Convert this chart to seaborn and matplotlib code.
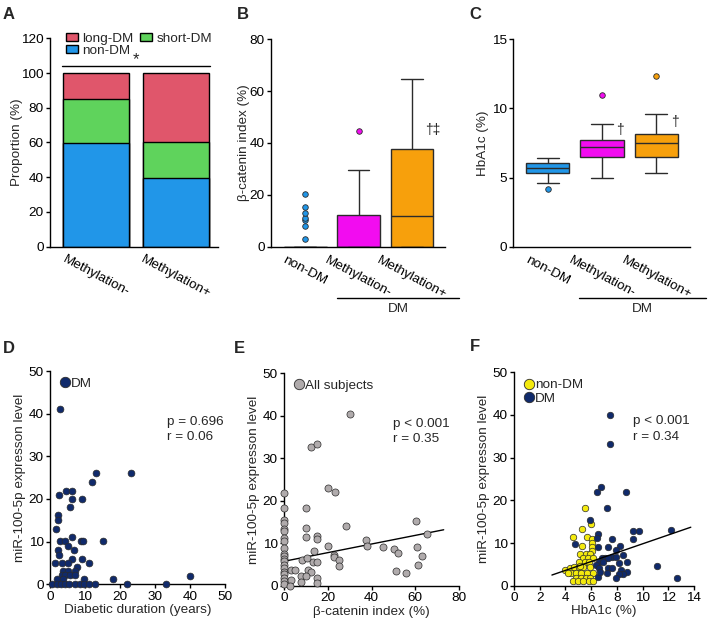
# miR-100-5p figure: panels A-F

import matplotlib.pyplot as plt
from matplotlib.patches import Patch
from matplotlib.lines import Line2D
import seaborn as sns

# A: proportion (%) of each group
meth_groups = ['Methylation-', 'Methylation+']
non_dm_pct = [59.5, 39.7]
short_dm_pct = [25.5, 20.8]
long_dm_pct = [15.0, 39.5]

# B: beta-catenin index (%)
box_groups = ['non-DM', 'Methylation-', 'Methylation+']
bcat_non_dm = [0] * 40 + [3, 8, 10.3, 11.3, 13.2, 15.2, 20.2]
bcat_meth_neg = [0] * 11 + [4, 7, 9, 11, 12.2, 15, 18, 22, 29.8, 44.8]
bcat_meth_pos = [0] * 6 + [2, 4, 6, 9, 11.8, 15, 20, 25, 30, 37.6,
                           42, 48, 52, 58, 64.7]

# C: HbA1c (%)
hba_non_dm = [4.18, 4.59, 5.37, 5.5, 5.70, 5.9, 6.08, 6.2, 6.42]
hba_meth_neg = [5.0, 6.0, 6.51, 6.9, 7.19, 7.5, 7.71, 8.85, 10.98]
hba_meth_pos = [5.34, 6.0, 6.51, 7.0, 7.48, 7.8, 8.17, 9.57, 12.31]

# D: diabetic duration (years) vs miR-100-5p
d_duration = [2.9, 13.1, 23.1, 12.1, 2.7, 4.5, 6.4, 6.3, 9.1, 5.8,
              2.4, 2.4, 1.7, 6.3, 2.8, 4.3, 8.9, 9.3, 15.0, 5.2,
              2.4, 6.8, 2.6, 6.3, 9.1, 1.4, 3.3, 5.0, 11.0, 7.6,
              3.8, 5.2, 7.1, 3.3, 4.3, 5.6, 7.1, 2.1, 3.8, 9.8,
              18.1, 0.5, 1.9, 3.1, 4.3, 5.5, 7.0, 8.6, 9.8, 11.0,
              12.9, 22.0, 33.0, 40.0]
d_mir = [41.0, 26.0, 26.0, 23.9, 20.9, 21.9, 21.9, 19.9, 19.9, 18.1,
         16.2, 15.1, 13.0, 11.0, 10.1, 10.1, 10.1, 10.1, 10.1, 9.0,
         8.1, 8.1, 6.9, 6.0, 6.0, 5.0, 5.0, 5.0, 4.9, 4.0,
         3.2, 3.2, 3.2, 2.2, 2.2, 2.2, 2.2, 1.2, 1.2, 1.2,
         1.2, 0, 0, 0, 0, 0, 0, 0, 0, 0,
         0, 0, 0, 2.0]

# E: beta-catenin index vs miR-100-5p (all subjects)
e_bcat = [0] * 20 + [30.1, 12.5, 15.1, 20.2, 23.2, 28.2, 10.2, 10.2, 10.2, 15.3,
                     15.3, 20.2, 13.5, 22.9, 22.9, 25.2, 25.2, 8.2, 10.5, 13.3,
                     15.3, 3.1, 5.2, 10.8, 12.5, 7.9, 10.2, 7.9, 15.3, 15.3,
                     3.4, 2.6, 37.7, 38.0, 45.3, 50.2, 52.2, 51.1, 55.7, 60.3,
                     61.4, 62.9, 61.0, 65.3]
e_mir = [21.9, 18.3, 15.4, 14.8, 13.3, 12.8, 11.3, 10.5, 8.9, 7.6,
         7.0, 6.4, 5.8, 5.0, 4.2, 3.4, 2.7, 1.9, 1.1, 0.5,
         40.4, 32.6, 33.4, 23.0, 22.1, 14.2, 18.3, 13.6, 11.4, 11.8,
         11.0, 9.3, 8.1, 7.2, 6.7, 6.2, 4.8, 6.2, 6.6, 5.6,
         5.6, 3.8, 3.8, 3.8, 3.4, 2.3, 2.3, 0.9, 1.9, 0.8,
         1.3, 0.0, 10.9, 9.5, 9.2, 8.7, 7.8, 3.5, 3.0, 15.2,
         5.0, 7.1, 9.2, 12.2]
e_fit_x = [0, 73]
e_fit_y = [5.8, 13.2]

# F: HbA1c vs miR-100-5p
f_hba_non_dm = [5.55, 5.96, 5.32, 4.59, 5.7, 5.32, 6.1, 6.1, 6.1, 6.1,
                5.17, 5.63, 5.94, 5.37, 5.76, 6.15, 5.06, 5.5, 5.8, 3.94,
                4.33, 4.67, 5.06, 5.37, 5.89, 4.46, 4.85, 5.24, 5.7, 6.15,
                4.2, 4.8, 5.2, 5.6, 5.9, 4.6, 5.0, 5.4, 5.8, 6.15, 5.1]
f_mir_non_dm = [18.1, 14.5, 13.3, 11.5, 11.5, 9.3, 10.9, 9.9, 9.0, 8.1,
                7.4, 7.4, 7.4, 6.5, 6.5, 6.5, 5.6, 5.6, 5.6, 3.7,
                4.2, 4.4, 4.4, 4.4, 4.4, 3.0, 3.0, 3.0, 3.0, 3.0,
                2.9, 1.9, 1.9, 1.9, 1.9, 1.0, 1.0, 1.0, 1.0, 1.0, 4.6]
f_hba_dm = [7.5, 7.45, 6.8, 6.49, 8.74, 7.26, 5.94, 9.25, 9.7, 9.25,
            6.53, 6.45, 4.77, 7.65, 7.31, 8.22, 7.96, 6.53, 8.48, 7.6,
            7.9, 6.84, 7.05, 7.31, 6.6, 6.96, 6.4, 8.14, 8.8, 6.6,
            7.3, 7.6, 8.3, 8.8, 8.5, 8.2, 7.2, 7.9, 6.55, 6.7,
            11.1, 12.2, 12.7]
f_mir_dm = [40.0, 33.2, 23.1, 21.9, 21.9, 18.2, 15.4, 12.8, 12.8, 10.9,
            12.1, 11.2, 9.8, 10.9, 9.1, 9.2, 8.4, 9.0, 7.2, 6.7,
            6.7, 6.6, 6.6, 6.6, 5.5, 5.5, 4.8, 5.3, 5.6, 4.1,
            4.1, 4.1, 3.7, 3.3, 2.7, 2.7, 2.9, 1.7, 2.1, 3.3,
            4.5, 13.1, 1.7]
f_fit_x = [2.95, 13.75]
f_fit_y = [2.5, 13.7]

# colours
blue, green, red = '#2196e8', '#5fd35c', '#e0566b'
box_colors = ['#2196e8', '#f20cf0', '#f7a00c']
navy, grey, yellow = '#102a6b', '#b0abac', '#f4ea0e'
edge = '#2b2b2b'

sns.set_style('ticks')
plt.rcParams['font.family'] = ['Liberation Sans', 'DejaVu Sans']
plt.rcParams['font.size'] = 9.7

fig = plt.figure(figsize=(7.09, 6.22), dpi=100)


def px_axes(l, t, r, b):
    return fig.add_axes([l / 709, 1 - b / 622, (r - l) / 709, (b - t) / 622])


def style(ax):
    sns.despine(ax=ax)
    for s in ['left', 'bottom']:
        ax.spines[s].set_linewidth(1.0)
        ax.spines[s].set_color('black')
    ax.tick_params(length=3, width=1, pad=1.5, labelsize=9.7, colors='black')


# ---- A: stacked bars
axA = px_axes(50, 38.3, 218, 246.7)
cum_short = [a + b for a, b in zip(non_dm_pct, short_dm_pct)]
cum_long = [a + b for a, b in zip(cum_short, long_dm_pct)]
for vals, col in [(cum_long, red), (cum_short, green), (non_dm_pct, blue)]:
    sns.barplot(x=meth_groups, y=vals, color=col, saturation=1, width=0.82,
                edgecolor='black', linewidth=1, errorbar=None, ax=axA)
axA.set_xlim(-0.575, 1.525)
axA.set_ylim(0, 120)
axA.set_yticks(range(0, 121, 20))
axA.set_ylabel('Proportion (%)', labelpad=-1)
style(axA)
axA.tick_params(axis='x', length=0, pad=5)
plt.setp(axA.get_xticklabels(), rotation=-28, ha='center')
axA.plot([-0.42, 1.43], [104, 104], color='black', lw=1, clip_on=False)
axA.text(0.5, 103.5, '*', ha='center', va='bottom', fontsize=12)
handles = [Patch(facecolor=red, edgecolor='black', label='long-DM'),
           Patch(facecolor=blue, edgecolor='black', label='non-DM'),
           Patch(facecolor=green, edgecolor='black', label='short-DM')]
axA.legend(handles=handles, ncol=2, loc='upper left', bbox_to_anchor=(0.055, 1.06),
           frameon=False, borderpad=0, handlelength=0.9, handleheight=0.6,
           handletextpad=0.3, columnspacing=0.5, labelspacing=0.0)


# ---- B, C: box plots
def draw_boxes(ax, series):
    for grp, vals, col in zip(box_groups, series, box_colors):
        sns.boxplot(x=[grp] * len(vals), y=vals, order=box_groups, color=col,
                    saturation=1, width=0.8, linecolor=edge, linewidth=1,
                    fliersize=4,
                    flierprops=dict(marker='o', markerfacecolor=col,
                                    markeredgecolor=edge, markeredgewidth=0.6),
                    ax=ax)
    ax.set_xlim(-0.64, 2.62)
    style(ax)
    ax.tick_params(axis='x', length=0, pad=5)
    plt.setp(ax.get_xticklabels(), rotation=-28, ha='center')


axB = px_axes(271, 39, 445, 247)
draw_boxes(axB, [bcat_non_dm, bcat_meth_neg, bcat_meth_pos])
axB.set_ylim(0, 80)
axB.set_yticks([0, 20, 40, 60, 80])
axB.set_ylabel('β-catenin index (%)', labelpad=0)
axB.text(2.39, 45, '†‡', ha='center', va='center', fontsize=10)

axC = px_axes(513, 39, 690, 247)
draw_boxes(axC, [hba_non_dm, hba_meth_neg, hba_meth_pos])
axC.set_ylim(0, 15)
axC.set_yticks([0, 5, 10, 15])
axC.set_ylabel('HbA1c (%)', labelpad=2)
axC.text(1.32, 8.44, '†', ha='center', va='center', fontsize=10)
axC.text(2.34, 9.0, '†', ha='center', va='center', fontsize=10)

for ax, x0, x1 in [(axB, 0.6, 2.89), (axC, 0.58, 2.92)]:
    trans = ax.get_xaxis_transform()
    ax.plot([x0, x1], [-0.247, -0.247], color='black', lw=1,
            transform=trans, clip_on=False)
    ax.text((x0 + x1) / 2, -0.27, 'DM', transform=trans, ha='center', va='top')


def dot(col, size):
    return Line2D([], [], ls='', marker='o', markerfacecolor=col,
                  markeredgecolor=edge, markeredgewidth=0.6, markersize=size)


def scatter_legend(ax, entries):
    ax.legend([dot(c, 7.5) for c, _ in entries], [t for _, t in entries],
              loc='upper left', bbox_to_anchor=(0.025, 1.0), frameon=False,
              borderpad=0, handlelength=0.6, handletextpad=0.15,
              labelspacing=0.05)


# ---- D
axD = px_axes(50, 371, 225, 584.3)
sns.scatterplot(x=d_duration, y=d_mir, color=navy, edgecolor=edge, linewidth=0.5,
                s=24, clip_on=False, zorder=3, ax=axD)
axD.set_xlim(0, 50)
axD.set_ylim(0, 50)
axD.set_xticks(range(0, 51, 10))
axD.set_yticks(range(0, 51, 10))
axD.set_xlabel('Diabetic duration (years)', labelpad=1)
axD.set_ylabel('miR-100-5p expresson level', labelpad=2)
style(axD)
scatter_legend(axD, [(navy, 'DM')])
axD.text(0.67, 0.79, 'p = 0.696\nr = 0.06', transform=axD.transAxes,
         ha='left', va='top', linespacing=1.4)

# ---- E
axE = px_axes(284, 373, 459, 586)
sns.scatterplot(x=e_bcat, y=e_mir, color=grey, edgecolor=edge, linewidth=0.5,
                s=26, clip_on=False, zorder=3, ax=axE)
sns.lineplot(x=e_fit_x, y=e_fit_y, color='black', linewidth=1, ax=axE)
axE.set_xlim(0, 80)
axE.set_ylim(0, 50)
axE.set_xticks(range(0, 81, 20))
axE.set_yticks(range(0, 51, 10))
axE.set_xlabel('β-catenin index (%)', labelpad=1)
axE.set_ylabel('miR-100-5p expresson level', labelpad=2)
style(axE)
scatter_legend(axE, [(grey, 'All subjects')])
axE.text(0.623, 0.79, 'p < 0.001\nr = 0.35', transform=axE.transAxes,
         ha='left', va='top', linespacing=1.4)

# ---- F
axF = px_axes(514, 372.3, 694, 585.7)
sns.scatterplot(x=f_hba_non_dm, y=f_mir_non_dm, color=yellow, edgecolor=edge,
                linewidth=0.5, s=22, clip_on=False, zorder=3, ax=axF)
sns.scatterplot(x=f_hba_dm, y=f_mir_dm, color=navy, edgecolor=edge,
                linewidth=0.5, s=22, clip_on=False, zorder=3, ax=axF)
sns.lineplot(x=f_fit_x, y=f_fit_y, color='black', linewidth=1, zorder=4, ax=axF)
axF.set_xlim(0, 14)
axF.set_ylim(0, 50)
axF.set_xticks(range(0, 15, 2))
axF.set_yticks(range(0, 51, 10))
axF.set_xlabel('HbA1c (%)', labelpad=1)
axF.set_ylabel('miR-100-5p expresson level', labelpad=2)
style(axF)
scatter_legend(axF, [(yellow, 'non-DM'), (navy, 'DM')])
axF.text(0.66, 0.80, 'p < 0.001\nr = 0.34', transform=axF.transAxes,
         ha='left', va='top', linespacing=1.4)

# panel letters
for letter, x, y in [('A', 3, 7), ('B', 237, 7), ('C', 469, 7),
                     ('D', 3, 341), ('E', 234, 341), ('F', 470, 339)]:
    fig.text(x / 709, 1 - y / 622, letter, fontsize=12, fontweight='bold',
             ha='left', va='top')

plt.savefig('out.png', dpi=100)
